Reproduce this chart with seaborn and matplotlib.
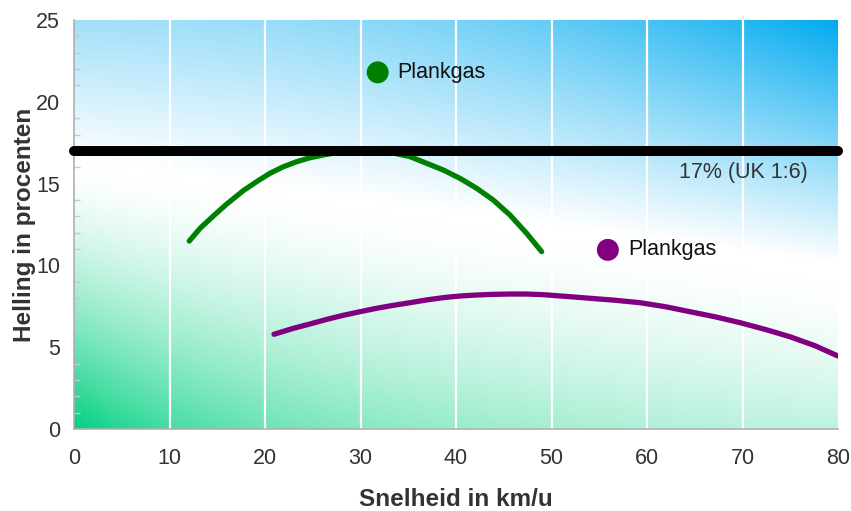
import numpy as np
import pandas as pd
import matplotlib
matplotlib.use("Agg")
import matplotlib.pyplot as plt
import seaborn as sns

# Speed (km/h) vs. maximum gradient (%) for the two curves
green_speed = [12.07, 13.19, 14.59, 15.99, 17.73, 19.13, 20.52, 21.92, 23.32, 24.71, 26.1,
               28.0, 30.0, 32.0, 33.6, 35.18, 36.93, 38.67, 40.42, 42.17, 43.91, 45.65,
               47.4, 48.97]
green_slope = [11.49, 12.26, 13.02, 13.75, 14.57, 15.12, 15.63, 16.03, 16.34, 16.58, 16.75,
               16.95, 17.0, 16.95, 16.85, 16.65, 16.24, 15.83, 15.32, 14.71, 13.99, 13.08,
               11.96, 10.84]

purple_speed = [20.94, 22.96, 24.71, 26.46, 28.2, 29.95, 31.7, 33.44, 35.18, 36.93, 38.67,
                40.42, 42.17, 43.91, 45.65, 47.4, 49.14, 51.41, 54.03, 56.65, 59.27, 61.88,
                64.5, 67.12, 69.74, 72.36, 74.97, 77.59, 80.0]
purple_slope = [5.79, 6.15, 6.42, 6.70, 6.95, 7.17, 7.38, 7.56, 7.72, 7.89, 8.03,
                8.13, 8.19, 8.23, 8.25, 8.25, 8.21, 8.11, 7.99, 7.87, 7.72, 7.48,
                7.17, 6.86, 6.50, 6.09, 5.64, 5.09, 4.46]

# Reference gradient line
ref_speed = [0, 80]
ref_slope = [17, 17]
ref_label = "17% (UK 1:6)"

# Label markers
marker_labels = ["Plankgas", "Plankgas"]
marker_x = [31.8, 55.9]
marker_y = [21.8, 10.95]
marker_colors = ["#008000", "#800080"]

x_ticks = [0, 10, 20, 30, 40, 50, 60, 70, 80]
y_ticks = [0, 5, 10, 15, 20, 25]

sns.set_theme(style="white")
plt.rcParams["font.family"] = ["Liberation Sans", "DejaVu Sans"]

fig = plt.figure(figsize=(8.51, 5.11), dpi=100)
ax = fig.add_axes([74 / 851, 1 - 429 / 511, (838 - 74) / 851, (429 - 20) / 511])

# Background: green field below a sloping white band, blue sky above it
nx, ny = 400, 250
gx = np.linspace(0, 80, nx)[None, :]
gy = np.linspace(0, 25, ny)[:, None]
yg = 16.0 - 0.09 * gx
g = np.clip((yg - gy) / yg, 0, 1) ** 1.4 / (1 + gx / 27.0)
yb = 16.5 - 0.08 * gx
top = 0.37 + 0.63 * (gx / 80.0) ** 2
b = np.clip((gy - yb) / (25.0 - yb), 0, 1) * top
green = np.array([0, 208, 128]) / 255
blue = np.array([0, 170, 240]) / 255
img = np.ones((ny, nx, 3))
img = img * (1 - g[..., None]) + green * g[..., None]
img = img * (1 - b[..., None]) + blue * b[..., None]
ax.imshow(img, extent=[0, 80, 0, 25], origin="lower", aspect="auto", zorder=0,
          interpolation="bilinear")

ax.set_xlim(0, 80)
ax.set_ylim(0, 25)

# White vertical grid lines
for xv in x_ticks[1:-1]:
    ax.axvline(xv, color="white", lw=1.6, zorder=0.5)

curves = pd.DataFrame({
    "speed": green_speed + purple_speed,
    "slope": green_slope + purple_slope,
    "curve": ["green"] * len(green_speed) + ["purple"] * len(purple_speed),
})
sns.lineplot(data=curves, x="speed", y="slope", hue="curve",
             palette={"green": "#008000", "purple": "#800080"},
             estimator=None, sort=False, lw=3.8, legend=False, ax=ax, zorder=3)
for line in ax.get_lines()[-2:]:
    line.set_solid_capstyle("round")
    line.set_solid_joinstyle("round")

ref = pd.DataFrame({"speed": ref_speed, "slope": ref_slope})
sns.lineplot(data=ref, x="speed", y="slope", color="black", lw=7.2,
             estimator=None, legend=False, ax=ax, zorder=4)
ax.get_lines()[-1].set_solid_capstyle("round")
ax.get_lines()[-1].set_clip_on(False)

ax.text(63.4, 15.7, ref_label, fontsize=15.5, color="#333333", va="center", ha="left", zorder=5)

sns.scatterplot(x=marker_x, y=marker_y, hue=list(range(len(marker_x))),
                palette=marker_colors, s=250, legend=False, ax=ax,
                linewidth=0, zorder=5)
for mx, my, lab in zip(marker_x, marker_y, marker_labels):
    ax.text(mx + 2.1, my, lab, fontsize=15.5, color="#111111", va="center", ha="left", zorder=5)

ax.set_xticks(x_ticks)
ax.set_yticks(y_ticks)
ax.set_yticks(np.arange(0, 26, 1), minor=True)
ax.tick_params(axis="both", which="major", direction="out", length=5, width=1,
               color="#b0b0b0", labelsize=15.5, labelcolor="#333333")
ax.tick_params(axis="x", which="major", pad=9)
ax.tick_params(axis="y", which="major", pad=5)
ax.tick_params(axis="y", which="minor", direction="in", length=4.5, width=1,
               color="#c8c8c8", left=True)

for side in ["top", "right"]:
    ax.spines[side].set_visible(False)
for side in ["left", "bottom"]:
    ax.spines[side].set_color("#b0b0b0")
    ax.spines[side].set_linewidth(1.2)

ax.set_xlabel("Snelheid in km/u", fontsize=17.5, fontweight="bold", color="#333333", labelpad=13)
ax.set_ylabel("Helling in procenten", fontsize=17.5, fontweight="bold", color="#333333", labelpad=0)

fig.savefig("out.png", dpi=100)
